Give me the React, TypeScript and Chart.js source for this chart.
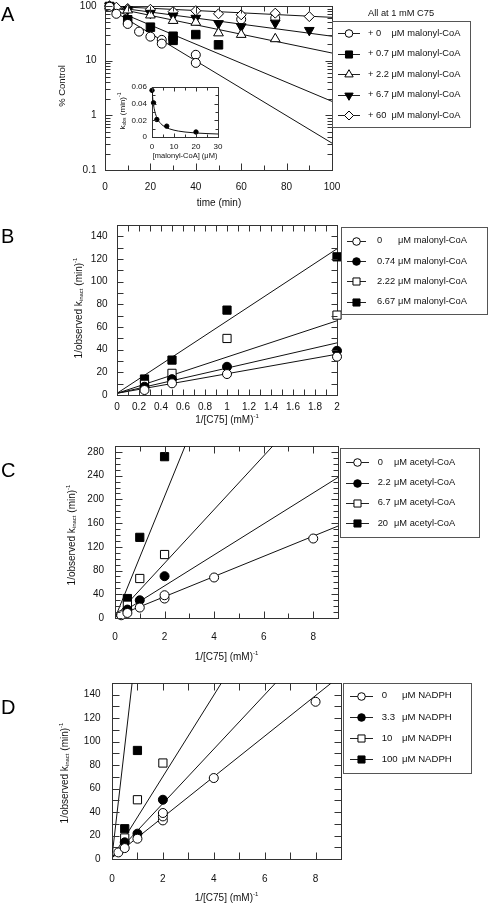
import React, { useEffect, useRef } from 'react';
import { Chart, registerables } from 'chart.js';

Chart.register(...registerables);

const FONT = '"Liberation Sans", Arial, Helvetica, sans-serif';
const INK = '#111';
const AXIS = '#333';

// ---------------- Panel A: % Control vs time ----------------
const A_SERIES = ['+ 0', '+ 0.7', '+ 2.2', '+ 6.7', '+ 60'];
const A_UNIT = 'μM malonyl-CoA';
const A_HEADER = 'All at 1 mM C75';
const A_TIME_0 = [2, 5, 10, 15, 20, 25, 25, 40, 40];
const A_CTRL_0 = [97, 72, 47, 34, 27.5, 24, 20.5, 12.8, 9.1];
const A_TIME_07 = [2, 10, 20, 30, 30, 40, 50];
const A_CTRL_07 = [98, 56, 41, 28, 23.5, 30, 19.5];
const A_TIME_22 = [2, 10, 20, 30, 40, 50, 60, 75];
const A_CTRL_22 = [99, 84, 68, 54, 50, 32, 30, 25];
const A_TIME_67 = [2, 10, 20, 30, 40, 50, 60, 75, 90];
const A_CTRL_67 = [100, 86, 74, 66, 60, 48, 42, 49, 36];
const A_TIME_60 = [2, 5, 10, 20, 30, 40, 50, 60, 75, 90];
const A_CTRL_60 = [100, 95, 90, 87, 79, 82, 72, 69, 74, 64];
const A_TIME_EXTRA = [60, 75];
const A_CTRL_EXTRA = [57, 60];
const A_FIT_TIME = [0, 100];
const A_FIT_0 = [100, 0.31];
const A_FIT_07 = [100, 1.8];
const A_FIT_22 = [100, 13.8];
const A_FIT_67 = [100, 28];
const A_FIT_60 = [100, 62];
const A_X_TICKS = [0, 10, 20, 30, 40, 50, 60, 70, 80, 90, 100];
const A_X_LABELED = [0, 20, 40, 60, 80, 100];
const A_Y_TICKS = [
  0.1, 0.2, 0.3, 0.4, 0.5, 0.6, 0.7, 0.8, 0.9,
  1, 2, 3, 4, 5, 6, 7, 8, 9,
  10, 20, 30, 40, 50, 60, 70, 80, 90, 100,
];
const A_Y_LABELED = [0.1, 1, 10, 100];

// ---------------- Inset: kobs vs [malonyl-CoA] ----------------
const INSET_CONC = [0, 0.7, 2.2, 6.7, 20];
const INSET_KOBS = [0.056, 0.041, 0.021, 0.013, 0.006];
const INSET_FIT_CONC = [0, 0.5, 1, 1.5, 2, 3, 4, 5, 6, 8, 10, 12, 15, 20, 25, 30];
const INSET_FIT_KOBS = [0.056, 0.0423, 0.034, 0.0285, 0.0246, 0.0193, 0.016, 0.0137, 0.012, 0.0097, 0.0082, 0.0071, 0.006, 0.0048, 0.0041, 0.0036];
const INSET_X_TICKS = [0, 5, 10, 15, 20, 25, 30];
const INSET_X_LABELED = [0, 10, 20, 30];
const INSET_Y_TICKS = [0, 0.01, 0.02, 0.03, 0.04, 0.05, 0.06];
const INSET_Y_LABELED = [0, 0.02, 0.04, 0.06];

// ---------------- Panel B: malonyl-CoA double reciprocal ----------------
const B_SERIES = ['0', '0.74', '2.22', '6.67'];
const B_UNIT = 'μM malonyl-CoA';
const B_INV_C75 = [0.25, 0.5, 1, 2];
const B_MAL_0 = [4.4, 10.3, 18.5, 33.8];
const B_MAL_074 = [7.3, 14, 24.9, 39];
const B_MAL_222 = [9.4, 19.1, 49.9, 70.5];
const B_MAL_667 = [14.1, 30.8, 74.9, 121.9];
const B_FIT_X = [0, 2];
const B_FIT_0 = [1.5, 36];
const B_FIT_074 = [1.5, 46];
const B_FIT_222 = [1.5, 65.5];
const B_FIT_667 = [1.5, 129];
const B_X_TICKS = [0, 0.1, 0.2, 0.3, 0.4, 0.5, 0.6, 0.7, 0.8, 0.9, 1, 1.1, 1.2, 1.3, 1.4, 1.5, 1.6, 1.7, 1.8, 1.9, 2];
const B_X_LABELED = [0, 0.2, 0.4, 0.6, 0.8, 1, 1.2, 1.4, 1.6, 1.8, 2];
const B_Y_TICKS = [0, 10, 20, 30, 40, 50, 60, 70, 80, 90, 100, 110, 120, 130, 140, 150];
const B_Y_LABELED = [0, 20, 40, 60, 80, 100, 120, 140];

// ---------------- Panel C: acetyl-CoA ----------------
const C_SERIES = ['0', '2.2', '6.7', '20'];
const C_UNIT = 'μM acetyl-CoA';
const C_X_0 = [0.25, 0.5, 1, 2, 2, 4, 8];
const C_Y_0 = [4.6, 8.5, 17.6, 32.8, 38.4, 68.3, 134];
const C_X_22 = [0.5, 1, 2];
const C_Y_22 = [14.2, 29.9, 70.5];
const C_X_67 = [0.5, 1, 2];
const C_Y_67 = [21.5, 66.6, 107];
const C_X_20 = [0.5, 1, 2];
const C_Y_20 = [32.8, 136, 272];
const C_FIT_0_X = [0, 9];
const C_FIT_0_Y = [2, 155];
const C_FIT_22_X = [0, 9];
const C_FIT_22_Y = [2, 237];
const C_FIT_67_X = [0, 6.37];
const C_FIT_67_Y = [2, 290];
const C_FIT_20_X = [0, 2.83];
const C_FIT_20_Y = [0, 290];
const CD_X_TICKS = [0, 1, 2, 3, 4, 5, 6, 7, 8, 9];
const CD_X_LABELED = [0, 2, 4, 6, 8];
const C_Y_TICKS = [0, 10, 20, 30, 40, 50, 60, 70, 80, 90, 100, 110, 120, 130, 140, 150, 160, 170, 180, 190, 200, 210, 220, 230, 240, 250, 260, 270, 280, 290];
const C_Y_LABELED = [0, 40, 80, 120, 160, 200, 240, 280];

// ---------------- Panel D: NADPH ----------------
const D_SERIES = ['0', '3.3', '10', '100'];
const D_UNIT = 'μM NADPH';
const D_X_0 = [0.25, 0.5, 1, 2, 2, 2, 4, 8];
const D_Y_0 = [5.6, 9.3, 17.3, 32.9, 36.3, 39.2, 69, 134];
const D_X_33 = [0.5, 1, 2];
const D_Y_33 = [14.2, 21.6, 50.5];
const D_X_10 = [0.5, 1, 2];
const D_Y_10 = [17.9, 50.5, 81.8];
const D_X_100 = [0.5, 1];
const D_Y_100 = [25.8, 92.5];
const D_FIT_0_X = [0, 8.62];
const D_FIT_0_Y = [1, 150];
const D_FIT_33_X = [0, 6.43];
const D_FIT_33_Y = [1, 150];
const D_FIT_10_X = [0, 4.3];
const D_FIT_10_Y = [1, 150];
const D_FIT_100_X = [0, 0.79];
const D_FIT_100_Y = [2, 150];
const D_Y_TICKS = B_Y_TICKS;
const D_Y_LABELED = B_Y_LABELED;

// ---------------- helpers ----------------
type Marker = { shape: 'circle' | 'rect' | 'tri' | 'triDown' | 'diamond'; fill: boolean; r: number };
const STYLE: Record<string, string> = { circle: 'circle', rect: 'rect', tri: 'triangle', triDown: 'triangle', diamond: 'rectRot' };

const pts = (xs: number[], ys: number[]) => xs.map((x, i) => ({ x, y: ys[i] }));
const near = (a: number, b: number) => Math.abs(a - b) < 1e-9;
const isLabeled = (list: number[], v: number) => list.some((l) => near(l, v));

function markerDs(xs: number[], ys: number[], m: Marker) {
  return {
    data: pts(xs, ys),
    showLine: false,
    pointStyle: STYLE[m.shape],
    pointRotation: m.shape === 'triDown' ? 180 : 0,
    pointRadius: m.r,
    pointHoverRadius: m.r,
    pointBackgroundColor: m.fill ? '#000' : '#fff',
    pointBorderColor: '#000',
    pointBorderWidth: 1,
    clip: false,
  };
}

function fitDs(xs: number[], ys: number[], smooth = false) {
  return {
    data: pts(xs, ys),
    showLine: true,
    borderColor: INK,
    borderWidth: 1,
    pointRadius: 0,
    pointHoverRadius: 0,
    tension: 0,
    cubicInterpolationMode: smooth ? 'monotone' : 'default',
    clip: 0,
  };
}

function drawMarker(ctx: CanvasRenderingContext2D, m: Marker, x: number, y: number) {
  const r = m.r;
  ctx.beginPath();
  if (m.shape === 'circle') ctx.arc(x, y, r, 0, Math.PI * 2);
  else if (m.shape === 'rect') {
    const s = r * Math.SQRT1_2;
    ctx.rect(x - s, y - s, 2 * s, 2 * s);
  } else if (m.shape === 'tri' || m.shape === 'triDown') {
    const sg = m.shape === 'tri' ? 1 : -1;
    ctx.moveTo(x, y - sg * r);
    ctx.lineTo(x + 0.866 * r, y + sg * 0.5 * r);
    ctx.lineTo(x - 0.866 * r, y + sg * 0.5 * r);
    ctx.closePath();
  } else {
    ctx.moveTo(x - r, y);
    ctx.lineTo(x, y - r);
    ctx.lineTo(x + r, y);
    ctx.lineTo(x, y + r);
    ctx.closePath();
  }
  ctx.fillStyle = m.fill ? '#000' : '#fff';
  ctx.fill();
  ctx.strokeStyle = '#000';
  ctx.lineWidth = 1;
  ctx.stroke();
}

type Seg = { t: string; s: number; dy?: number };
function drawRich(ctx: CanvasRenderingContext2D, segs: Seg[], cx: number, cy: number, rotate = false) {
  ctx.save();
  ctx.translate(cx, cy);
  if (rotate) ctx.rotate(-Math.PI / 2);
  let w = 0;
  for (const s of segs) {
    ctx.font = `${s.s}px ${FONT}`;
    w += ctx.measureText(s.t).width;
  }
  let x = -w / 2;
  ctx.fillStyle = INK;
  ctx.textBaseline = 'middle';
  ctx.textAlign = 'left';
  for (const s of segs) {
    ctx.font = `${s.s}px ${FONT}`;
    ctx.fillText(s.t, x, s.dy || 0);
    x += ctx.measureText(s.t).width;
  }
  ctx.restore();
}

function drawLetter(ctx: CanvasRenderingContext2D, t: string, x: number, baseline: number) {
  ctx.save();
  ctx.font = `20px ${FONT}`;
  ctx.fillStyle = '#000';
  ctx.textBaseline = 'alphabetic';
  ctx.textAlign = 'left';
  ctx.fillText(t, x, baseline);
  ctx.restore();
}

type LegendSpec = {
  box: [number, number, number, number];
  rows: number[];
  lineX: [number, number];
  textX: number;
  unitX: number;
  labels: string[];
  unit: string;
  markers: Marker[];
  size: number;
};

function drawLegend(ctx: CanvasRenderingContext2D, L: LegendSpec) {
  ctx.save();
  const [bx, by, bw, bh] = L.box;
  ctx.strokeStyle = '#555';
  ctx.lineWidth = 1;
  ctx.strokeRect(bx + 0.5, by + 0.5, bw, bh);
  L.labels.forEach((lab, i) => {
    const y = L.rows[i];
    const ly = Math.round(y) + 0.5;
    ctx.strokeStyle = '#222';
    ctx.beginPath();
    ctx.moveTo(L.lineX[0], ly);
    ctx.lineTo(L.lineX[1], ly);
    ctx.stroke();
    drawMarker(ctx, L.markers[i], (L.lineX[0] + L.lineX[1]) / 2, ly);
    ctx.fillStyle = INK;
    ctx.font = `${L.size}px ${FONT}`;
    ctx.textBaseline = 'middle';
    ctx.textAlign = 'left';
    ctx.fillText(lab, L.textX, y);
    ctx.fillText(L.unit, L.unitX, y);
  });
  ctx.restore();
}

type Box = { left: number; top: number; width: number; height: number };
type Area = { l: number; r: number; t: number; b: number };
type Axis = { ticks: number[]; labeled: number[]; fmt?: (v: number) => string };
type PanelSpec = {
  key: string;
  box: Box;
  area: Area;
  yw: number;
  xh: number;
  fontSize: number;
  tickLen: [number, number];
  xAxis: Axis;
  yAxis: Axis;
  x: any;
  y: any;
  xPad: number;
  yPad: number;
  datasets: any[];
  text: (ctx: CanvasRenderingContext2D) => void;
};

function drawFrame(chart: any) {
  const ctx: CanvasRenderingContext2D = chart.ctx;
  const a = chart.chartArea;
  const left = Math.round(a.left);
  const right = Math.round(a.right);
  const top = Math.round(a.top);
  const bottom = Math.round(a.bottom);
  ctx.save();
  ctx.strokeStyle = AXIS;
  ctx.lineWidth = 1;
  ctx.strokeRect(left + 0.5, top + 0.5, right - left, bottom - top);
  ctx.restore();
}

function pixelOf(scale: any, v: number, lo: number, hi: number, isLog: boolean, min: number, max: number) {
  let p = scale && scale.getPixelForValue ? scale.getPixelForValue(v) : NaN;
  if (!isFinite(p)) {
    const f = isLog ? (Math.log10(v) - Math.log10(min)) / (Math.log10(max) - Math.log10(min)) : (v - min) / (max - min);
    p = lo + f * (hi - lo);
  }
  return Math.round(p) + 0.5;
}

function drawInnerTicks(chart: any, spec: PanelSpec) {
  const ctx: CanvasRenderingContext2D = chart.ctx;
  const a = chart.chartArea;
  const left = Math.round(a.left) + 0.5;
  const right = Math.round(a.right) + 0.5;
  const top = Math.round(a.top) + 0.5;
  const bottom = Math.round(a.bottom) + 0.5;
  const maj = spec.tickLen[0];
  const mnr = spec.tickLen[1];
  const xs = chart.scales['x'];
  const ys = chart.scales['y'];
  const yLog = spec.y.type === 'logarithmic';
  ctx.save();
  ctx.strokeStyle = AXIS;
  ctx.lineWidth = 1;
  ctx.beginPath();
  for (const v of spec.xAxis.ticks) {
    const px = pixelOf(xs, v, a.left, a.right, false, spec.x.min, spec.x.max);
    const len = isLabeled(spec.xAxis.labeled, v) ? maj : mnr;
    ctx.moveTo(px, bottom);
    ctx.lineTo(px, bottom - len);
    ctx.moveTo(px, top);
    ctx.lineTo(px, top + len);
  }
  for (const v of spec.yAxis.ticks) {
    const py = pixelOf(ys, v, a.bottom, a.top, yLog, spec.y.min, spec.y.max);
    const len = isLabeled(spec.yAxis.labeled, v) ? maj : mnr;
    ctx.moveTo(left, py);
    ctx.lineTo(left + len, py);
    ctx.moveTo(right, py);
    ctx.lineTo(right - len, py);
  }
  ctx.stroke();
  ctx.restore();
}

function decoPlugin(spec: PanelSpec) {
  return {
    id: 'deco_' + spec.key,
    beforeDatasetsDraw(chart: any) {
      drawFrame(chart);
    },
    afterDraw(chart: any) {
      drawInnerTicks(chart, spec);
      const ctx: CanvasRenderingContext2D = chart.ctx;
      ctx.save();
      ctx.translate(-spec.box.left, -spec.box.top);
      spec.text(ctx);
      ctx.restore();
    },
  };
}

const defaultFmt = (v: number) => String(+v.toFixed(4));

function axisTicks(ax: Axis) {
  return {
    afterBuildTicks: (s: any) => {
      s.ticks = ax.ticks.map((v) => ({ value: v }));
    },
    ticks: {
      callback: (v: number) => (isLabeled(ax.labeled, v) ? (ax.fmt || defaultFmt)(v) : ''),
    },
  };
}

function buildConfig(spec: PanelSpec): any {
  const { box, area, yw, xh } = spec;
  const zeroPad = (s: any) => {
    s.paddingLeft = 0;
    s.paddingRight = 0;
    s.paddingTop = 0;
    s.paddingBottom = 0;
  };
  const tickFont = { family: FONT, size: spec.fontSize };
  const xt = axisTicks(spec.xAxis);
  const yt = axisTicks(spec.yAxis);
  return {
    type: 'scatter',
    data: { datasets: spec.datasets },
    options: {
      animation: false,
      responsive: false,
      maintainAspectRatio: false,
      events: [],
      layout: {
        autoPadding: false,
        padding: {
          left: area.l - box.left - yw,
          right: box.left + box.width - area.r,
          top: area.t - box.top,
          bottom: box.top + box.height - area.b - xh,
        },
      },
      plugins: { legend: { display: false }, tooltip: { enabled: false }, title: { display: false } },
      scales: {
        x: {
          type: 'linear',
          position: 'bottom',
          ...spec.x,
          afterBuildTicks: xt.afterBuildTicks,
          grid: { display: false, drawTicks: false },
          border: { display: false },
          title: { display: false },
          ticks: {
            ...xt.ticks,
            autoSkip: false,
            maxRotation: 0,
            minRotation: 0,
            padding: spec.xPad,
            color: INK,
            font: tickFont,
          },
          afterFit: (s: any) => {
            s.height = xh;
            zeroPad(s);
          },
        },
        y: {
          type: 'linear',
          position: 'left',
          ...spec.y,
          afterBuildTicks: yt.afterBuildTicks,
          grid: { display: false, drawTicks: false },
          border: { display: false },
          title: { display: false },
          ticks: {
            ...yt.ticks,
            autoSkip: false,
            padding: spec.yPad,
            color: INK,
            font: tickFont,
          },
          afterFit: (s: any) => {
            s.width = yw;
            zeroPad(s);
          },
        },
      },
    },
    plugins: [decoPlugin(spec)],
  };
}

// Marker styles
const OC = (r = 4.5): Marker => ({ shape: 'circle', fill: false, r });
const FC = (r = 4.5): Marker => ({ shape: 'circle', fill: true, r });
const OS = (r = 5.8): Marker => ({ shape: 'rect', fill: false, r });
const FS = (r = 5.8): Marker => ({ shape: 'rect', fill: true, r });

const ySub = (prefix: string, s = 10): Seg[] => [
  { t: prefix, s },
  { t: 'inact', s: s * 0.6, dy: 2 },
  { t: ' (min)', s },
  { t: '-1', s: s * 0.6, dy: -4 },
];
const xInv: Seg[] = [
  { t: '1/[C75] (mM)', s: 10 },
  { t: '-1', s: 6, dy: -4 },
];

const A_MARKERS: Marker[] = [
  OC(4.5),
  FS(6),
  { shape: 'tri', fill: false, r: 5.6 },
  { shape: 'triDown', fill: true, r: 5.6 },
  { shape: 'diamond', fill: false, r: 5 },
];
const A_LEG_MARKERS: Marker[] = [
  OC(3.8),
  FS(5),
  { shape: 'tri', fill: false, r: 4.8 },
  { shape: 'triDown', fill: true, r: 4.8 },
  { shape: 'diamond', fill: false, r: 4.5 },
];

const specA: PanelSpec = {
  key: 'A',
  box: { left: 0, top: 0, width: 488, height: 212 },
  area: { l: 105, r: 332, t: 6, b: 170 },
  yw: 40,
  xh: 36,
  fontSize: 10,
  tickLen: [7, 5],
  xPad: 11,
  yPad: 8.5,
  xAxis: { ticks: A_X_TICKS, labeled: A_X_LABELED },
  yAxis: { ticks: A_Y_TICKS, labeled: A_Y_LABELED },
  x: { min: 0, max: 100 },
  y: { type: 'logarithmic', min: 0.1, max: 100 },
  datasets: [
    markerDs(A_TIME_0, A_CTRL_0, A_MARKERS[0]),
    markerDs(A_TIME_07, A_CTRL_07, A_MARKERS[1]),
    markerDs(A_TIME_22, A_CTRL_22, A_MARKERS[2]),
    markerDs(A_TIME_67, A_CTRL_67, A_MARKERS[3]),
    markerDs(A_TIME_60, A_CTRL_60, A_MARKERS[4]),
    markerDs(A_TIME_EXTRA, A_CTRL_EXTRA, OC(4.5)),
    fitDs(A_FIT_TIME, A_FIT_0),
    fitDs(A_FIT_TIME, A_FIT_07),
    fitDs(A_FIT_TIME, A_FIT_22),
    fitDs(A_FIT_TIME, A_FIT_67),
    fitDs(A_FIT_TIME, A_FIT_60),
  ],
  text: (ctx) => {
    drawLetter(ctx, 'A', 1, 21);
    drawRich(ctx, [{ t: '% Control', s: 9.5 }], 62, 86, true);
    drawRich(ctx, [{ t: 'time (min)', s: 10 }], 219, 203);
    ctx.save();
    ctx.font = `9.3px ${FONT}`;
    ctx.fillStyle = INK;
    ctx.textBaseline = 'middle';
    ctx.fillText(A_HEADER, 368, 13);
    ctx.restore();
    drawLegend(ctx, {
      box: [332, 21, 138, 106],
      rows: [33, 53.5, 74, 94.5, 115],
      lineX: [338, 360],
      textX: 368,
      unitX: 391.5,
      labels: A_SERIES,
      unit: A_UNIT,
      markers: A_LEG_MARKERS,
      size: 9.3,
    });
  },
};

const specInset: PanelSpec = {
  key: 'inset',
  box: { left: 100, top: 78, width: 130, height: 92 },
  area: { l: 152, r: 218, t: 87, b: 137 },
  yw: 30,
  xh: 20,
  fontSize: 8,
  tickLen: [4, 3],
  xPad: 5,
  yPad: 5,
  xAxis: { ticks: INSET_X_TICKS, labeled: INSET_X_LABELED },
  yAxis: { ticks: INSET_Y_TICKS, labeled: INSET_Y_LABELED, fmt: (v) => (v === 0 ? '0' : v.toFixed(2)) },
  x: { min: 0, max: 30 },
  y: { min: 0, max: 0.06 },
  datasets: [
    markerDs(INSET_CONC, INSET_KOBS, FC(2.2)),
    fitDs(INSET_FIT_CONC, INSET_FIT_KOBS, true),
  ],
  text: (ctx) => {
    drawRich(
      ctx,
      [
        { t: 'k', s: 8 },
        { t: 'obs', s: 5, dy: 2 },
        { t: ' (min)', s: 8 },
        { t: '-1', s: 5, dy: -3 },
      ],
      123,
      111,
      true,
    );
    drawRich(ctx, [{ t: '[malonyl-CoA] (μM)', s: 7.5 }], 185, 156);
  },
};

const LEG4 = [OC(3.8), FC(3.8), OS(5), FS(5)];

const specB: PanelSpec = {
  key: 'B',
  box: { left: 0, top: 212, width: 488, height: 218 },
  area: { l: 117, r: 337, t: 225, b: 395 },
  yw: 40,
  xh: 30,
  fontSize: 10,
  tickLen: [6, 6],
  xPad: 6,
  yPad: 9.5,
  xAxis: { ticks: B_X_TICKS, labeled: B_X_LABELED },
  yAxis: { ticks: B_Y_TICKS, labeled: B_Y_LABELED },
  x: { min: 0, max: 2 },
  y: { min: 0, max: 150 },
  datasets: [
    markerDs(B_INV_C75, B_MAL_0, OC()),
    markerDs(B_INV_C75, B_MAL_074, FC()),
    markerDs(B_INV_C75, B_MAL_222, OS()),
    markerDs(B_INV_C75, B_MAL_667, FS()),
    fitDs(B_FIT_X, B_FIT_0),
    fitDs(B_FIT_X, B_FIT_074),
    fitDs(B_FIT_X, B_FIT_222),
    fitDs(B_FIT_X, B_FIT_667),
  ],
  text: (ctx) => {
    drawLetter(ctx, 'B', 1, 243);
    drawRich(ctx, ySub('1/observed k'), 79, 308, true);
    drawRich(ctx, xInv, 227, 420);
    drawLegend(ctx, {
      box: [341, 227, 146, 87],
      rows: [240.7, 261.3, 281.3, 301.7],
      lineX: [347, 366],
      textX: 377,
      unitX: 398,
      labels: B_SERIES,
      unit: B_UNIT,
      markers: LEG4,
      size: 9.3,
    });
  },
};

const specC: PanelSpec = {
  key: 'C',
  box: { left: 0, top: 430, width: 488, height: 236 },
  area: { l: 115, r: 338, t: 446, b: 618 },
  yw: 40,
  xh: 36,
  fontSize: 10,
  tickLen: [7, 5],
  xPad: 13.5,
  yPad: 11,
  xAxis: { ticks: CD_X_TICKS, labeled: CD_X_LABELED },
  yAxis: { ticks: C_Y_TICKS, labeled: C_Y_LABELED },
  x: { min: 0, max: 9 },
  y: { min: 0, max: 290 },
  datasets: [
    markerDs(C_X_0, C_Y_0, OC()),
    markerDs(C_X_22, C_Y_22, FC()),
    markerDs(C_X_67, C_Y_67, OS()),
    markerDs(C_X_20, C_Y_20, FS()),
    fitDs(C_FIT_0_X, C_FIT_0_Y),
    fitDs(C_FIT_22_X, C_FIT_22_Y),
    fitDs(C_FIT_67_X, C_FIT_67_Y),
    fitDs(C_FIT_20_X, C_FIT_20_Y),
  ],
  text: (ctx) => {
    drawLetter(ctx, 'C', 1, 476.5);
    drawRich(ctx, ySub('1/observed k'), 72, 535, true);
    drawRich(ctx, xInv, 226.5, 657);
    drawLegend(ctx, {
      box: [340, 448, 139, 89],
      rows: [462.3, 482.7, 502.7, 523.3],
      lineX: [346, 369],
      textX: 377.7,
      unitX: 394,
      labels: C_SERIES,
      unit: C_UNIT,
      markers: LEG4,
      size: 9.3,
    });
  },
};

const specD: PanelSpec = {
  key: 'D',
  box: { left: 0, top: 666, width: 488, height: 238 },
  area: { l: 112, r: 341, t: 683, b: 859 },
  yw: 40,
  xh: 36,
  fontSize: 10,
  tickLen: [7, 7],
  xPad: 14.5,
  yPad: 11.5,
  xAxis: { ticks: CD_X_TICKS, labeled: CD_X_LABELED },
  yAxis: { ticks: D_Y_TICKS, labeled: D_Y_LABELED },
  x: { min: 0, max: 9 },
  y: { min: 0, max: 150 },
  datasets: [
    markerDs(D_X_0, D_Y_0, OC()),
    markerDs(D_X_33, D_Y_33, FC()),
    markerDs(D_X_10, D_Y_10, OS()),
    markerDs(D_X_100, D_Y_100, FS()),
    fitDs(D_FIT_0_X, D_FIT_0_Y),
    fitDs(D_FIT_33_X, D_FIT_33_Y),
    fitDs(D_FIT_10_X, D_FIT_10_Y),
    fitDs(D_FIT_100_X, D_FIT_100_Y),
  ],
  text: (ctx) => {
    drawLetter(ctx, 'D', 1, 714);
    drawRich(ctx, ySub('1/observed k'), 65, 773, true);
    drawRich(ctx, xInv, 226.5, 898);
    drawLegend(ctx, {
      box: [343, 683, 128, 90],
      rows: [695.7, 717, 738.3, 759],
      lineX: [350, 373],
      textX: 381.7,
      unitX: 402,
      labels: D_SERIES,
      unit: D_UNIT,
      markers: LEG4,
      size: 9.6,
    });
  },
};

const SPECS: PanelSpec[] = [specA, specB, specC, specD, specInset];

export default function App() {
  const refs = useRef<(HTMLCanvasElement | null)[]>([]);

  useEffect(() => {
    const charts: Chart[] = [];
    SPECS.forEach((spec, i) => {
      const cv = refs.current[i];
      if (!cv) return;
      charts.push(new Chart(cv, buildConfig(spec)));
    });
    return () => charts.forEach((c) => c.destroy());
  }, []);

  return (
    <div style={{ position: 'absolute', left: 0, top: 0, width: 488, height: 904, background: '#fff', overflow: 'hidden' }}>
      {SPECS.map((s, i) => (
        <canvas
          key={s.key}
          ref={(el) => {
            refs.current[i] = el;
          }}
          width={s.box.width}
          height={s.box.height}
          style={{
            position: 'absolute',
            left: s.box.left,
            top: s.box.top,
            width: s.box.width,
            height: s.box.height,
            display: 'block',
          }}
        />
      ))}
    </div>
  );
}
